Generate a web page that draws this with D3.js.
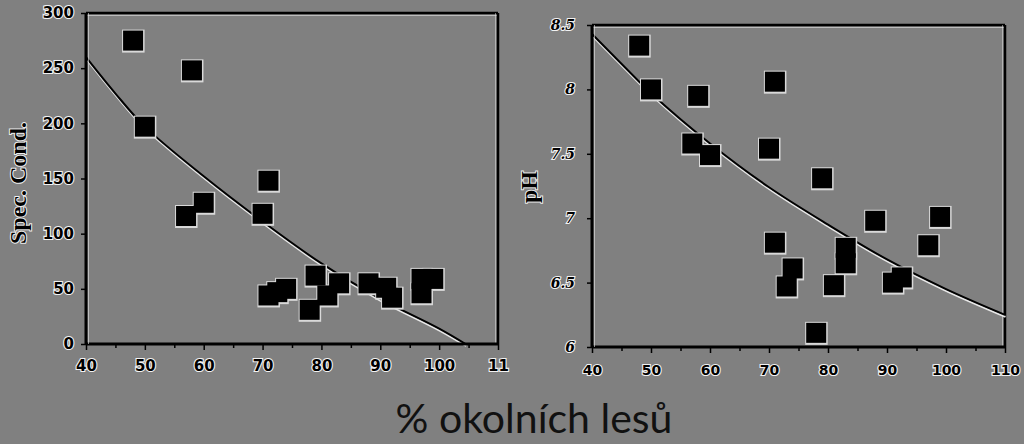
<!DOCTYPE html>
<html><head><meta charset="utf-8">
<script src="https://cdn.jsdelivr.net/npm/d3@7"></script>
<style>
html,body{margin:0;padding:0;background:#808080;}
svg{display:block;}
</style></head>
<body>
<svg id="chart" width="1024" height="444"></svg>
<script>
// ---- data ----
const condX = [48, 58, 50, 71, 60, 57, 70, 71, 72.5, 74, 79, 78, 81, 83, 88, 91, 92, 97, 99, 97];
const condY = [275, 248, 197, 148, 128, 116, 118, 44, 47, 50, 62, 31, 44, 55, 55, 51, 42, 59, 59, 46];
const condFitX = [40, 45, 50, 60, 70, 80, 90, 100, 104.5];
const condFitY = [260, 227, 197, 152, 111, 73, 41, 14, 0];

const phX = [48, 50, 58, 71, 57, 60, 70, 79, 88, 99, 71, 97, 83, 83, 74, 73, 81, 91, 92.5, 78];
const phY = [8.34, 8.0, 7.95, 8.06, 7.58, 7.49, 7.54, 7.31, 6.98, 7.01, 6.81, 6.79, 6.77, 6.65, 6.61, 6.47, 6.48, 6.50, 6.54, 6.11];
const phFitX = [40, 48, 50, 60, 70, 80, 90, 100, 110];
const phFitY = [8.43, 8.06, 7.97, 7.58, 7.24, 6.95, 6.68, 6.45, 6.25];

const xTicks = [40, 50, 60, 70, 80, 90, 100, 110];
const xMinorTicks = [45, 55, 65, 75, 85, 95, 105];
const condXTickLabels = ["40", "50", "60", "70", "80", "90", "100", "11"];
const phXTickLabels = ["40", "50", "60", "70", "80", "90", "100", "110"];
const condYTicks = [0, 50, 100, 150, 200, 250, 300];
const phYTicks = [6, 6.5, 7, 7.5, 8, 8.5];
const phYTickLabels = ["6", "6.5", "7", "7.5", "8", "8.5"];

const yTitleLeft = "Spec. Cond.";
const yTitleRight = "pH";
const xTitle = "% okolních lesů";

const svg = d3.select("#chart");
svg.append("rect").attr("width", 1024).attr("height", 444).attr("fill", "#808080");

function drawPlot(o) {
  const g = svg.append("g");
  const x = d3.scaleLinear().domain([40, 110]).range([o.left, o.right]);
  const y = d3.scaleLinear().domain(o.yDomain).range([o.bottom, o.top]);

  // frame top/right
  g.append("line").attr("x1", o.left).attr("x2", o.right).attr("y1", o.top).attr("y2", o.top)
    .attr("stroke", "#000").attr("stroke-width", 2.5);
  g.append("line").attr("x1", o.left).attr("x2", o.right).attr("y1", o.top + 2.5).attr("y2", o.top + 2.5)
    .attr("stroke", "#e6e6e6").attr("stroke-width", 1).attr("opacity", 0.6);
  g.append("line").attr("x1", o.right).attr("x2", o.right).attr("y1", o.top).attr("y2", o.bottom)
    .attr("stroke", "#000").attr("stroke-width", 2.5);
  g.append("line").attr("x1", o.right - 2.5).attr("x2", o.right - 2.5).attr("y1", o.top).attr("y2", o.bottom)
    .attr("stroke", "#e6e6e6").attr("stroke-width", 1).attr("opacity", 0.5);

  // fit curve
  const line = d3.line().x(d => x(d[0])).y(d => y(d[1])).curve(d3.curveCatmullRom.alpha(0.5));
  const pts = o.fitX.map((v, i) => [v, o.fitY[i]]);
  g.append("path").attr("d", line(pts)).attr("fill", "none")
    .attr("stroke", "#e8e8e8").attr("stroke-width", 2).attr("transform", "translate(0.5,2)");
  g.append("path").attr("d", line(pts)).attr("fill", "none")
    .attr("stroke", "#000").attr("stroke-width", 2);

  // markers
  const s = 20;
  const data = o.px.map((v, i) => [v, o.py[i]]);
  g.append("g").selectAll("rect").data(data).join("rect")
    .attr("x", d => x(d[0]) - s / 2 - 1).attr("y", d => y(d[1]) - s / 2 - 1)
    .attr("width", s + 2.5).attr("height", s + 3).attr("fill", "#d9d9d9");
  g.append("g").selectAll("rect").data(data).join("rect")
    .attr("x", d => x(d[0]) - s / 2).attr("y", d => y(d[1]) - s / 2)
    .attr("width", s).attr("height", s).attr("fill", "#000");

  // x axis
  const xa = d3.axisBottom(x).tickValues(xTicks).tickSize(6).tickPadding(o.xPad)
    .tickFormat((d, i) => o.xLabels[i]);
  const gx = g.append("g").attr("transform", `translate(0,${o.bottom})`).call(xa);
  gx.select(".domain").attr("stroke", "#000").attr("stroke-width", 3);
  gx.selectAll(".tick line").attr("stroke", "#000").attr("stroke-width", 1.5);
  gx.selectAll(".tick text").attr("fill", "#000").attr("font-family", "DejaVu Sans")
    .attr("font-weight", "bold").attr("font-size", o.xFont)
    .attr("stroke", "#f2f2f2").attr("stroke-width", 2.2).attr("paint-order", "stroke");
  const xm = d3.axisBottom(x).tickValues(xMinorTicks).tickSize(4).tickFormat("");
  const gxm = g.append("g").attr("transform", `translate(0,${o.bottom})`).call(xm);
  gxm.select(".domain").remove();
  gxm.selectAll(".tick line").attr("stroke", "#000").attr("stroke-width", 1.5);
  gx.select(".domain").attr("d", `M${o.left},0H${o.right}`);

  // y axis
  const ya = d3.axisLeft(y).tickValues(o.yTicks).tickSize(5).tickPadding(o.yPad)
    .tickFormat((d, i) => o.yLabels[i]);
  const gy = g.append("g").attr("transform", `translate(${o.left},0)`).call(ya);
  gy.select(".domain").attr("d", `M0,${o.bottom}V${o.top}`).attr("stroke", "#000").attr("stroke-width", 3);
  gy.selectAll(".tick line").attr("stroke", "#000").attr("stroke-width", 1.5);
  gy.selectAll(".tick text").attr("fill", "#000").attr("font-family", o.yFamily)
    .attr("font-weight", "bold").attr("font-style", o.yStyle).attr("font-size", o.yFont)
    .attr("stroke", "#f2f2f2").attr("stroke-width", 2.2).attr("paint-order", "stroke");
  g.append("line").attr("x1", o.left + 2.5).attr("x2", o.left + 2.5).attr("y1", o.top).attr("y2", o.bottom)
    .attr("stroke", "#e6e6e6").attr("stroke-width", 1).attr("opacity", 0.6);

  // y title
  g.append("text").attr("transform", `translate(${o.titleX},${o.titleY}) rotate(-90)`)
    .attr("text-anchor", "middle").attr("dominant-baseline", "central")
    .attr("font-family", "Liberation Serif").attr("font-weight", "bold").attr("font-size", o.titleFont)
    .attr("fill", "#000").attr("stroke", "#eeeeee").attr("stroke-width", 2).attr("paint-order", "stroke")
    .text(o.title);
}

drawPlot({
  left: 86, right: 498, top: 13, bottom: 344, yDomain: [0, 300],
  px: condX, py: condY, fitX: condFitX, fitY: condFitY,
  xLabels: condXTickLabels, xPad: 10, xFont: 15,
  yTicks: condYTicks, yLabels: condYTicks.map(String), yPad: 7, yFont: 15,
  yFamily: "DejaVu Sans", yStyle: "normal",
  title: yTitleLeft, titleX: 18, titleY: 183, titleFont: 24
});

drawPlot({
  left: 592, right: 1005, top: 25, bottom: 347, yDomain: [6, 8.5],
  px: phX, py: phY, fitX: phFitX, fitY: phFitY,
  xLabels: phXTickLabels, xPad: 12, xFont: 14,
  yTicks: phYTicks, yLabels: phYTickLabels, yPad: 12, yFont: 14,
  yFamily: "DejaVu Serif", yStyle: "italic",
  title: yTitleRight, titleX: 529, titleY: 187, titleFont: 24
});

svg.append("text").attr("x", 534).attr("y", 433).attr("text-anchor", "middle")
  .attr("font-family", "Lato").attr("font-size", 41).attr("fill", "#111")
  .text(xTitle);
</script>
</body></html>
